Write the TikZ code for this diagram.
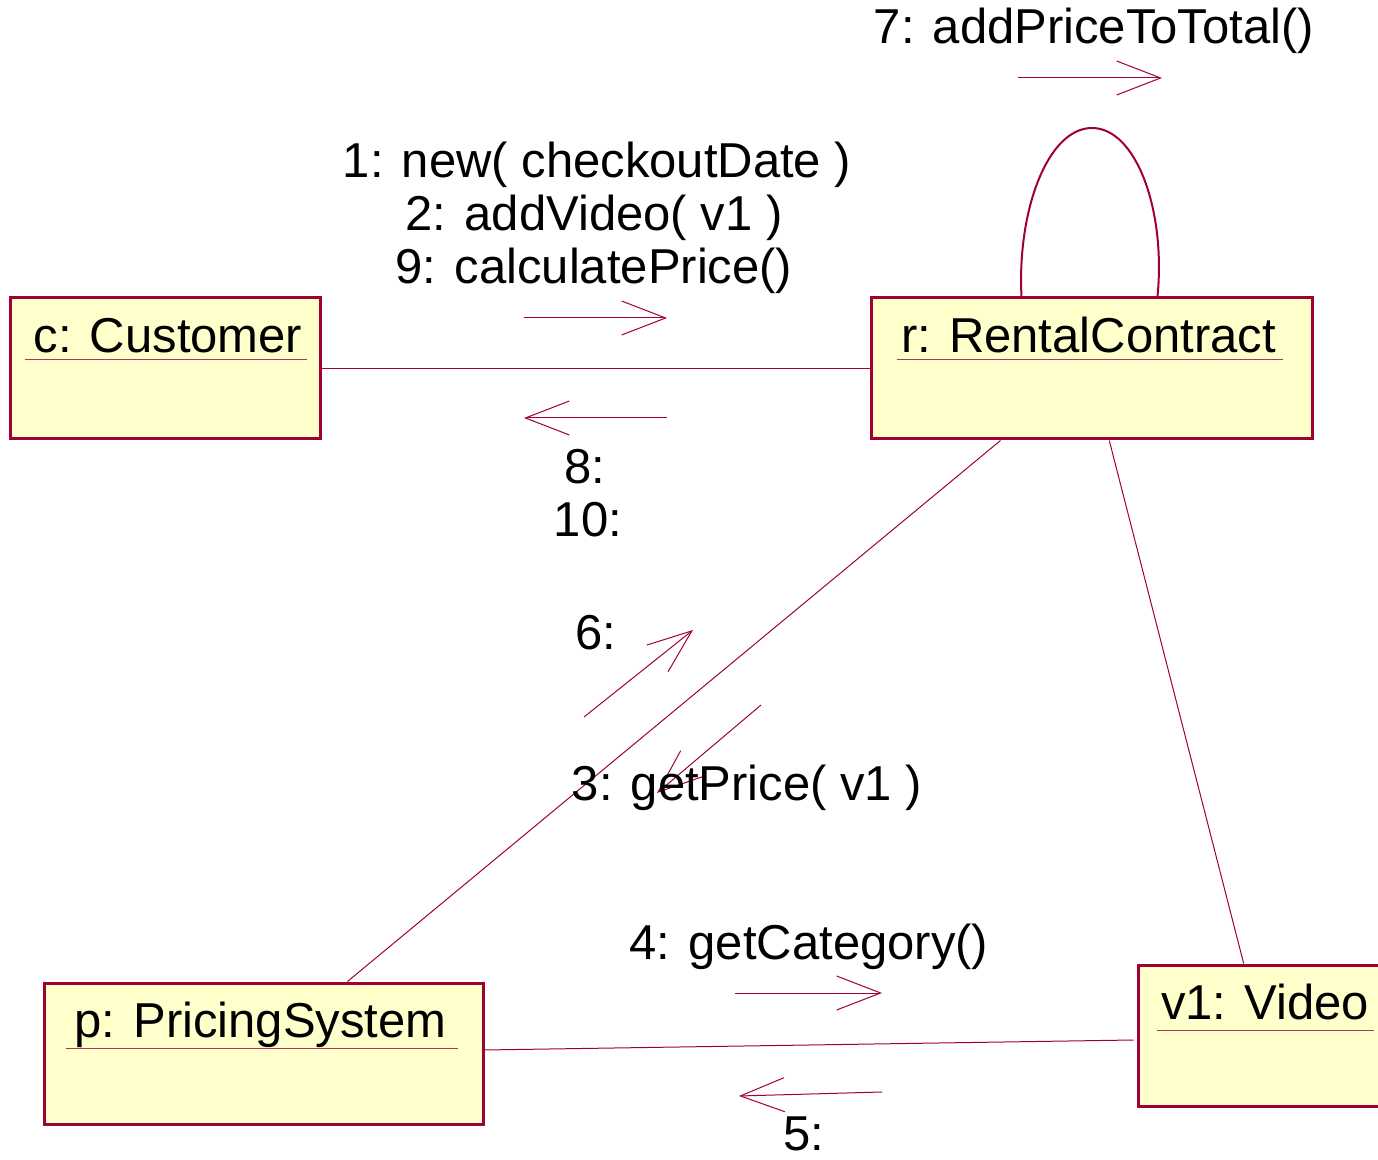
\documentclass[tikz,border=0pt]{standalone}
\usepackage{fontspec}
\setmainfont{Liberation Sans}
\usetikzlibrary{arrows.meta,calc}
\definecolor{umlline}{RGB}{160,0,50}
\definecolor{umlfill}{RGB}{255,255,204}
\begin{document}
\begin{tikzpicture}[x=0.5pt,y=-0.5pt,
  objbox/.style={draw=umlline,fill=umlfill,line width=1.5pt,inner sep=0pt},
  objname/.style={anchor=base,inner sep=0pt,font=\fontsize{24.5pt}{26.5pt}\selectfont},
  uline/.style={draw=umlline!80,line width=0.5pt},
  link/.style={draw=umlline,line width=0.5pt},
  selflink/.style={draw=umlline,line width=1pt},
  msg/.style={draw=umlline,line width=0.5pt,-{Straight Barb[length=22pt,width=17pt]}},
  msgtext/.style={anchor=base,inner sep=0pt,font=\fontsize{24.5pt}{26.5pt}\selectfont}
]
\useasboundingbox (0,0) rectangle (1378,1160);

% object boxes
\node[objbox,minimum width=155pt,minimum height=70.5pt] (c) at (165,368.5) {};
\node[objbox,minimum width=220.5pt,minimum height=70.5pt] (r) at (1091.5,368.5) {};
\node[objbox,minimum width=219.5pt,minimum height=70.5pt] (p) at (263.5,1053.5) {};
\node[objbox,minimum width=127pt,minimum height=70.5pt] (v) at (1265,1035.5) {};

% object names, underlined
\node[objname] (cname) at ($(c.north)+(3,56)$) {c: Customer};
\draw[uline] ($(c.north west)+(16,63)$) -- ($(c.north east)+(-15,63)$);
\node[objname] (rname) at ($(r.north)+(-3,56)$) {r: RentalContract};
\draw[uline] ($(r.north west)+(27,63)$) -- ($(r.north east)+(-31,63)$);
\node[objname] (pname) at ($(p.north)+(-3,56)$) {p: PricingSystem};
\draw[uline] ($(p.north west)+(23,67)$) -- ($(p.north east)+(-27,67)$);
\node[objname] (vname) at ($(v.north)+(0,56)$) {v1: Video};
\draw[uline] ($(v.north west)+(20,67)$) -- ($(v.north east)+(-20,67)$);

% links
\draw[link] (c.east) -- (r.west);
\draw[link] ($(r.south west)!0.295!(r.south east)$) -- ($(p.north west)!0.69!(p.north east)$);
\draw[link] ($(r.south west)!0.54!(r.south east)$) -- ($(v.north west)!0.417!(v.north east)$);
\draw[link] ($(p.east)+(0,-3.5)$) -- ($(v.west)+(-3,4.5)$);

% self link on r
\coordinate (loopL) at ($(r.north west)+(152,0)$);
\coordinate (loopT) at (1092,128);
\coordinate (loopR) at ($(r.north west)+(288,0)$);
\draw[selflink] (loopL) .. controls (1017,210) and (1048,128) .. (loopT)
  .. controls (1136,128) and (1166,210) .. (loopR);

% message arrows
\coordinate (m7a) at (1018,78);   \coordinate (m7b) at (1162,78);
\coordinate (m1a) at (524,318);   \coordinate (m1b) at (667,318);
\coordinate (m8a) at (667,418);   \coordinate (m8b) at (524,418);
\coordinate (m6a) at (584,717);   \coordinate (m6b) at (693,630);
\coordinate (m3a) at (761,705);   \coordinate (m3b) at (657,793);
\coordinate (m4a) at (735,993);   \coordinate (m4b) at (882,993);
\coordinate (m5a) at (882,1092);  \coordinate (m5b) at (739,1096);
\draw[msg] (m7a) -- (m7b);
\draw[msg] (m1a) -- (m1b);
\draw[msg] (m8a) -- (m8b);
\draw[msg] (m6a) -- (m6b);
\draw[msg] (m3a) -- (m3b);
\draw[msg] (m4a) -- (m4b);
\draw[msg] (m5a) -- (m5b);

% message labels
\node[msgtext] (t7) at (1094,44) {7: addPriceToTotal()};
\node[msgtext] (t1) at (597,178) {1: new( checkoutDate )};
\node[msgtext] (t2) at (594,231) {2: addVideo( v1 )};
\node[msgtext] (t9) at (594,284) {9: calculatePrice()};
\node[msgtext] (t8) at (585,484) {8:};
\node[msgtext] (t10) at (588,537) {10:};
\node[msgtext] (t6) at (596,650) {6:};
\node[msgtext] (t3) at (747,800) {3: getPrice( v1 )};
\node[msgtext] (t4) at (809,959) {4: getCategory()};
\node[msgtext] (t5) at (804,1150) {5:};
\end{tikzpicture}
\end{document}
